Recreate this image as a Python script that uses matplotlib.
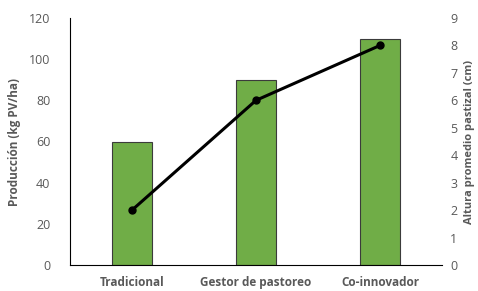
import numpy as np
import matplotlib.pyplot as plt

# data
categorias = ['Tradicional', 'Gestor de pastoreo', 'Co-innovador']
produccion = [60, 90, 110]  # kg PV/ha
altura = [2, 6, 8]  # cm

plt.rcParams['font.family'] = ['Open Sans', 'DejaVu Sans']
grey = '#595959'

fig = plt.figure(figsize=(4.78, 2.91), dpi=100)
ax = fig.add_axes([70 / 478, 1 - 265 / 291, 372 / 478, 247 / 291])
x = np.arange(len(categorias))

ax.bar(x, produccion, width=0.32, color='#70AD47', edgecolor='#3b3b3b', linewidth=0.8, zorder=2)
ax.set_xlim(-0.5, 2.5)
ax.set_ylim(0, 120)
ax.set_yticks(range(0, 121, 20))
ax.set_xticks(x)
ax.set_xticklabels(categorias, fontsize=8.5, fontweight='bold', color=grey)
ax.tick_params(axis='y', labelsize=9, colors=grey, length=0, pad=14)
ax.tick_params(axis='x', length=0, pad=8)
ax.set_ylabel('Producción (kg PV/ha)', fontsize=8.5, fontweight='bold', color=grey, labelpad=6)
for s in ['top', 'right']:
    ax.spines[s].set_visible(False)
ax.spines['left'].set_color('black')
ax.spines['bottom'].set_color('black')

# second axis
ax2 = ax.twinx()
ax2.plot(x, altura, color='black', linewidth=2.2, marker='o', markersize=5, zorder=3)
ax2.set_ylim(0, 9)
ax2.set_yticks(range(0, 10))
ax2.tick_params(axis='y', labelsize=9, colors=grey, length=0, pad=6)
ax2.set_ylabel('Altura promedio pastizal (cm)', fontsize=8, fontweight='bold', color=grey)
ax2.yaxis.set_label_coords(1.06, 0.5)
for s in ['top', 'right', 'left', 'bottom']:
    ax2.spines[s].set_visible(False)

fig.savefig('out.png', dpi=100)
